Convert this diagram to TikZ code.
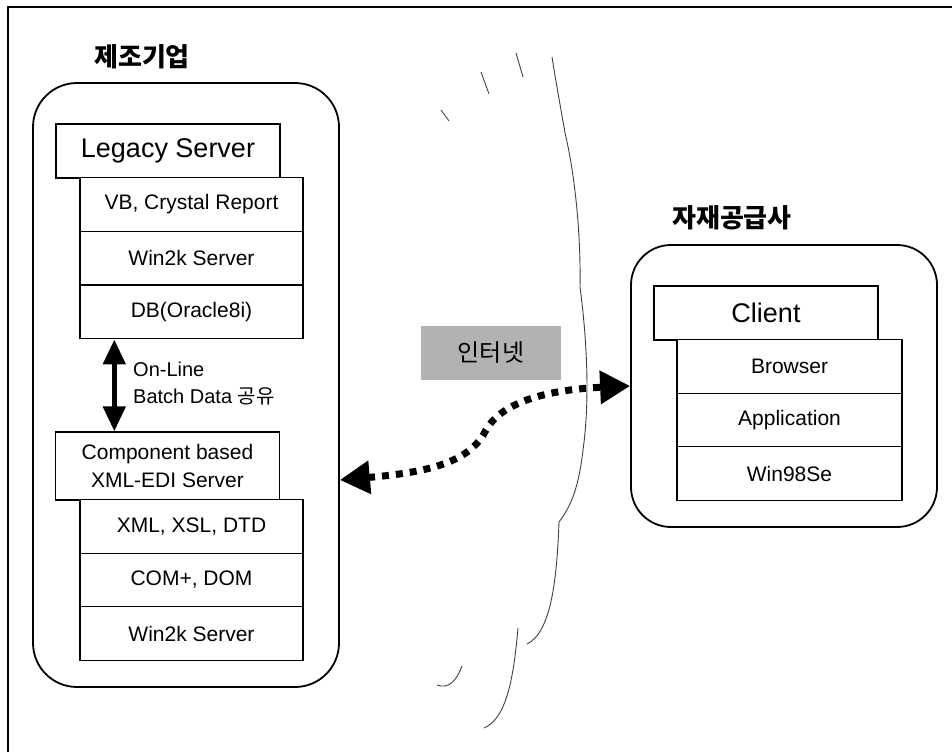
\documentclass[tikz,border=0pt]{standalone}
\usepackage{fontspec}
\setmainfont{Liberation Sans}
\newfontfamily\kor{Noto Sans CJK KR}
\usetikzlibrary{arrows.meta}

\tikzset{
  group/.style={draw, line width=1.8pt, rounded corners=44pt, inner sep=0pt},
  headbox/.style={draw, fill=white, line width=1.4pt, inner sep=0pt,
    minimum width=224pt, minimum height=54pt, font=\fontsize{27}{30}\selectfont},
  layer/.style={draw, fill=white, line width=1.4pt, inner sep=0pt,
    minimum width=223pt, minimum height=53.5pt, font=\fontsize{21}{24}\selectfont},
  grouptitle/.style={font=\kor\bfseries\fontsize{26}{28}\selectfont},
  cloudline/.style={black!75, line width=0.9pt},
  sync/.style={line width=5pt, {Triangle[length=25pt,width=22pt]}-{Triangle[length=25pt,width=22pt]}},
  net/.style={line width=7pt, dash pattern=on 7pt off 7pt,
    {Triangle[length=30pt,width=32pt]}-{Triangle[length=30pt,width=32pt]}}
}

\begin{document}
\begin{tikzpicture}[x=1pt,y=-1pt]
  \useasboundingbox (0,0) rectangle (952,752);
  \draw[line width=1.3pt] (8,752) -- (8,7) -- (952,7); % frame

  % cloud of the internet
  \draw[cloudline] (552,57) .. controls (558,95) and (563,120) .. (565,133)
    .. controls (574,170) and (581,230) .. (580,287)
    .. controls (587,340) and (590,400) .. (583,450)
    .. controls (579,485) and (572,505) .. (559,522)
    .. controls (557,575) and (552,632) .. (527,644);
  \draw[cloudline] (518,628) .. controls (514,672) and (508,718) .. (484,728);
  \draw[cloudline] (462,666) .. controls (456,682) and (448,689) .. (437,685);
  \draw[cloudline] (441,110) -- (449,121);
  \draw[cloudline] (481,72) -- (489,94);
  \draw[cloudline] (516,53) -- (523,77);

  % manufacturer
  \node[grouptitle] (makertitle) at (142,57) {제조기업};
  \node[group, minimum width=306pt, minimum height=604pt] (maker) at (186,385) {};
  \node[headbox] (legacy) at (168,151) {Legacy Server};
  \node[layer] (vb) at (191.5,204.5) {VB, Crystal Report};
  \node[layer] (win2k) at (191.5,258) {Win2k Server};
  \node[layer] (db) at (191.5,312) {DB(Oracle8i)};
  \node[headbox, minimum height=68pt, align=center, font=\fontsize{21}{28}\selectfont]
    (edi) at (167.5,466) {Component based\\XML-EDI Server};
  \node[layer] (xml) at (191.5,526.5) {XML, XSL, DTD};
  \node[layer] (com) at (191.5,580) {COM+, DOM};
  \node[layer] (win2kb) at (191.5,633.5) {Win2k Server};
  \draw[sync] ([xshift=35pt]db.south west) -- ([xshift=35pt]db.south west |- edi.north);
  \node[anchor=west, align=left, inner sep=0pt, font=\fontsize{20}{27}\selectfont]
    (batch) at (133,384) {On-Line\\Batch Data {\kor 공유}};

  % supplier
  \node[grouptitle] (suppliertitle) at (732,218) {자재공급사};
  \node[group, minimum width=306pt, minimum height=282pt, rounded corners=40pt] (supplier) at (784,386) {};
  \node[headbox] (client) at (766,313) {Client};
  \node[layer, minimum width=225pt] (browser) at (789.5,366.5) {Browser};
  \node[layer, minimum width=225pt] (app) at (789.5,420) {Application};
  \node[layer, minimum width=225pt] (win98) at (789.5,473.5) {Win98Se};

  % internet
  \node[fill=black!30, minimum width=140pt, minimum height=54pt, inner sep=0pt,
    font=\kor\fontsize{24}{26}\selectfont] (internet) at (491,353) {인터넷};
  \draw[net] (maker.east |- 0,480) .. controls (430,472) and (470,462) .. (486,430)
    .. controls (500,405) and (540,390) .. (supplier.west);
\end{tikzpicture}
\end{document}
